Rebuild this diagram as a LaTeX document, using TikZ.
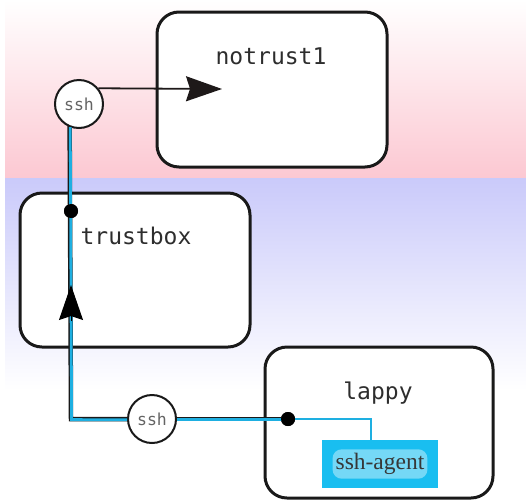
\documentclass[tikz,border=0pt]{standalone}
\usepackage{fontspec}
\newfontfamily\monof{DejaVu Sans Mono}
\newfontfamily\serf{Liberation Serif}
\usetikzlibrary{arrows.meta}
\definecolor{pinkbg}{RGB}{252,200,210}
\definecolor{lavbg}{RGB}{202,202,250}
\definecolor{wire}{RGB}{30,175,225}
\definecolor{agentc}{RGB}{25,190,240}
\definecolor{boxline}{RGB}{25,25,25}
\definecolor{labc}{RGB}{45,45,45}
\definecolor{sshc}{RGB}{100,100,100}
\definecolor{agtxt}{RGB}{55,55,55}
\tikzset{
  hostbox/.style={draw=boxline, line width=3pt, fill=white, rounded corners=22pt, inner sep=0pt},
  hostlabel/.style={font=\monof\fontsize{23}{23}\selectfont, text=labc, inner sep=0pt},
  sshcirc/.style={circle, draw=boxline, line width=2pt, fill=white, minimum size=48pt, inner sep=0pt, font=\monof\fontsize{16.5}{16.5}\selectfont, text=sshc},
  wiredark/.style={draw=boxline, line width=4.5pt},
  wireblue/.style={draw=wire, line width=2.8pt},
  thinwire/.style={draw=wire, line width=2pt},
  dotnode/.style={circle, fill=black, minimum size=14pt, inner sep=0pt},
  bigarrow/.style={-{Stealth[length=36pt,width=25pt,inset=4pt]}, draw={rgb,255:red,30;green,25;blue,25}, line width=1.8pt},
  upmark/.style={-{Stealth[length=35pt,width=24pt,inset=4pt]}, draw=black, line width=1pt},
  agentbox/.style={fill=agentc, minimum width=116pt, minimum height=48pt, inner sep=0pt},
  agentlabel/.style={font=\serf\fontsize{23.5}{23.5}\selectfont, inner xsep=3pt, inner ysep=4pt, fill=white, fill opacity=0.4, text opacity=1, rounded corners=9pt, text=agtxt}
}
\begin{document}
\begin{tikzpicture}[x=1pt,y=-1pt]
\useasboundingbox (0,0) rectangle (526,501);
% background
\fill[white] (0,0) rectangle (526,501);
\shade[top color=white, bottom color=pinkbg] (5,0) rectangle (526,178);
\shade[top color=lavbg, bottom color=white] (5,178) rectangle (526,390);
% boxes
\node[hostbox, minimum width=230pt, minimum height=155pt] (notrust) at (272,89.5) {};
\node[hostbox, minimum width=230pt, minimum height=154pt] (trustbox) at (135,270) {};
\node[hostbox, minimum width=228pt, minimum height=151pt] (lappy) at (379,422.5) {};
\node[hostlabel] (lnotrust) at (271,56) {notrust1};
\node[hostlabel] (ltrust) at (136,236) {trustbox};
\node[hostlabel] (llappy) at (378,393) {lappy};
% agent
\node[agentbox] (agent) at (380,464) {};
\node[agentlabel] (lagent) at (380,464) {ssh-agent};
% circles and dots
\node[sshcirc] (sshA) at (79,104) {ssh};
\node[sshcirc] (sshB) at (152,419) {ssh};
\node[dotnode] (dotT) at (71,211) {};
\node[dotnode] (dotL) at (288,419) {};
\coordinate (corner) at (71,419);
\coordinate (bend) at (371,419);
\coordinate (tipN) at (222,89);
\coordinate (upbase) at (71,321);
\coordinate (uptip) at (71,285);
% wires (dark under-stroke then blue)
\draw[wiredark] ([yshift=1pt]sshA.-112) -- (corner) -- (sshB.west);
\draw[wiredark] (sshB.east) -- (dotL);
\draw[wireblue] ([xshift=0.6pt]sshA.-112) -- ([xshift=0.6pt,yshift=-0.6pt]corner) -- ([yshift=-0.8pt]sshB.west);
\draw[wireblue] ([yshift=-0.8pt]sshB.east) -- ([yshift=-0.8pt]dotL.center);
\draw[thinwire] (dotL.center) -- (bend) -- (agent.north -| bend);
\node[dotnode] at (dotT) {};
\node[dotnode] at (dotL) {};
% arrows
\draw[bigarrow] (sshA.39) -- (tipN);
\draw[upmark] (upbase) -- (uptip);
\end{tikzpicture}
\end{document}
